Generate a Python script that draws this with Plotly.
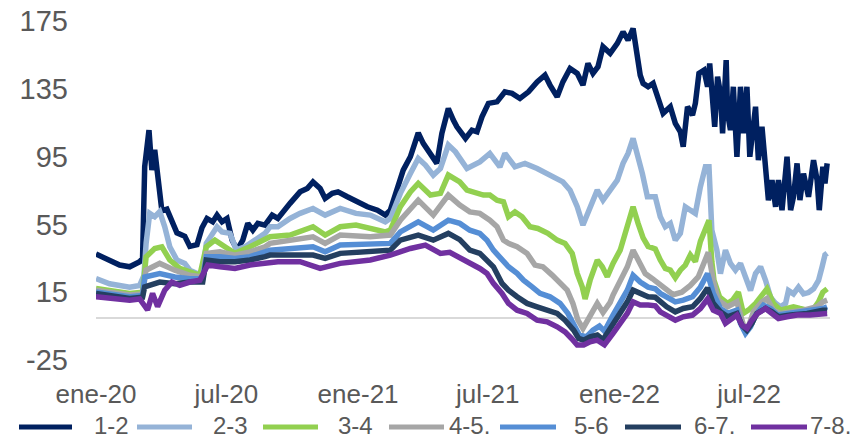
import plotly.graph_objects as go

# ---------------- data ----------------
series_names = ["1-2", "2-3", "3-4", "4-5.", "5-6", "6-7.", "7-8."]
series_colors = ["#002060", "#95B3D7", "#92D050", "#A6A6A6", "#558ED5", "#243F60", "#7030A0"]

tick_dates = ["2020-01-01", "2020-07-01", "2021-01-01", "2021-07-01", "2022-01-01", "2022-07-01"]
tick_labels = ["ene-20", "jul-20", "ene-21", "jul-21", "ene-22", "jul-22"]
y_ticks = [-25, 15, 55, 95, 135, 175]
y_tick_labels = ["-25", "15", "55", "95", "135", "175"]

dates_1_2 = ["2020-01-01","2020-01-20","2020-02-03","2020-02-17","2020-03-02","2020-03-06","2020-03-09","2020-03-15","2020-03-19","2020-03-23",
             "2020-03-27","2020-04-02","2020-04-09","2020-04-16","2020-04-23","2020-05-04","2020-05-11","2020-05-21","2020-05-28","2020-06-04",
             "2020-06-12","2020-06-18","2020-06-25","2020-07-02","2020-07-09","2020-07-16","2020-07-24","2020-07-31","2020-08-07","2020-08-14",
             "2020-08-24","2020-09-03","2020-09-11","2020-09-28","2020-10-12","2020-10-22","2020-10-30","2020-11-09","2020-11-16","2020-11-26",
             "2020-12-04","2020-12-17","2020-12-31","2021-01-14","2021-01-28","2021-02-08","2021-02-15","2021-02-24","2021-03-05","2021-03-15",
             "2021-03-26","2021-04-02","2021-04-12","2021-04-21","2021-04-28","2021-05-07","2021-05-14","2021-05-19","2021-05-31","2021-06-09",
             "2021-06-16","2021-06-23","2021-07-02","2021-07-14","2021-07-25","2021-08-04","2021-08-15","2021-08-27","2021-09-08","2021-09-19",
             "2021-09-26","2021-10-06","2021-10-14","2021-10-24","2021-11-03","2021-11-11","2021-11-18","2021-11-25","2021-12-02","2021-12-09",
             "2021-12-19","2021-12-29","2022-01-06","2022-01-13","2022-01-20","2022-01-26","2022-01-30","2022-02-03","2022-02-10","2022-02-17",
             "2022-02-24","2022-03-03","2022-03-13","2022-03-20","2022-03-27","2022-03-31","2022-04-06","2022-04-13","2022-04-17","2022-04-22",
             "2022-04-29","2022-05-04","2022-05-07","2022-05-11","2022-05-14","2022-05-18","2022-05-22","2022-05-25","2022-05-30","2022-06-01",
             "2022-06-05","2022-06-09","2022-06-14","2022-06-19","2022-06-23","2022-06-28","2022-07-02","2022-07-10","2022-07-14","2022-07-19",
             "2022-07-24","2022-07-28","2022-08-02","2022-08-07","2022-08-11","2022-08-16","2022-08-23","2022-08-28","2022-09-01","2022-09-06",
             "2022-09-10","2022-09-15","2022-09-22","2022-09-29","2022-10-04","2022-10-07","2022-10-12","2022-10-15","2022-10-18"]
vals_1_2 = [37.5,34,31,30,33,35,89,110.6,87,99,
            83,63,64,56,50,48,42,43,53,58.5,
            56.5,60.5,56.5,58.5,45.7,40,45.7,55.6,51.6,55.6,
            54.6,60.5,58.5,67.4,74.2,76.2,80.1,76.2,70.3,73.3,
            74.2,71.3,68.3,65.4,63.4,60.5,63.4,75.2,87,94.9,
            109,102.8,95.9,91,108.7,123.4,116.5,112.6,105.7,110.6,
            109.6,118.5,126.4,127.3,133.2,132.3,129.3,133.2,139.1,143.1,
            137.2,130.3,139.1,147,144.1,137.2,150,144.1,148,159.8,
            155.9,161.8,168.6,163.7,170.6,151.9,143,138.2,136.2,138.2,
            128.3,120.5,124.4,114.6,109.6,100.8,124.4,119.5,126.4,144.1,
            146,136.2,150,124.4,112.6,142.1,132.3,108.7,151.9,120.5,
            110.6,136.2,94.9,136.2,108.7,136.2,94.9,124.4,92.9,112.6,
            83.1,69.3,81.1,65.4,81.1,63.4,94.9,63.4,71.3,91,
            69.3,85,71.3,92.9,81.1,63.4,89,79.2,91]

dates_2_3 = ["2020-01-01","2020-01-20","2020-02-17","2020-03-02","2020-03-08","2020-03-11","2020-03-16","2020-03-23","2020-03-30","2020-04-06",
             "2020-04-13","2020-04-23","2020-05-04","2020-05-11","2020-05-21","2020-05-29","2020-06-03","2020-06-11","2020-06-18","2020-06-25",
             "2020-07-06","2020-07-15","2020-07-27","2020-08-10","2020-08-24","2020-08-31","2020-09-11","2020-09-28","2020-10-12","2020-10-30",
             "2020-11-16","2020-12-07","2020-12-29","2021-01-18","2021-02-08","2021-02-15","2021-03-01","2021-03-15","2021-03-26","2021-04-05",
             "2021-04-16","2021-04-26","2021-05-07","2021-05-17","2021-05-23","2021-06-02","2021-06-20","2021-07-04","2021-07-18","2021-07-25",
             "2021-08-08","2021-08-22","2021-09-08","2021-09-22","2021-10-06","2021-10-14","2021-10-24","2021-11-03","2021-11-11","2021-11-21",
             "2021-12-01","2021-12-09","2021-12-19","2021-12-29","2022-01-06","2022-01-13","2022-01-20","2022-01-26","2022-02-02","2022-02-09",
             "2022-02-20","2022-02-27","2022-03-06","2022-03-13","2022-03-20","2022-03-27","2022-04-03","2022-04-10","2022-04-17","2022-04-24",
             "2022-05-01","2022-05-06","2022-05-10","2022-05-17","2022-05-22","2022-05-29","2022-06-05","2022-06-12","2022-06-19","2022-06-26",
             "2022-07-03","2022-07-10","2022-07-17","2022-07-24","2022-07-31","2022-08-07","2022-08-14","2022-08-21","2022-08-25","2022-09-01",
             "2022-09-08","2022-09-15","2022-09-22","2022-09-29","2022-10-06","2022-10-11","2022-10-15","2022-10-18"]
vals_2_3 = [23,20,18,19,25,44,61.5,59.5,62.5,53.6,
            41.8,34,32,28,26,25,43.8,49.7,53.6,50.6,
            49.7,40,41.8,45.7,49.7,53.6,53.6,58.5,61.5,64.4,
            60.5,64.4,61.5,60.5,56.5,58.5,73.3,85,93.9,90,
            84,88,101.8,97.8,93.9,88,91.9,96.9,88.9,96.9,
            89,91,88,85,81.1,80.1,75.2,65.4,54.6,65.4,
            75.2,69.3,75.2,81.1,91,96.9,105.7,96.9,85,71.3,
            71.3,59.5,53.6,55.6,45.7,49.7,65.4,63.4,61.5,77.2,
            89,89,51.6,39.8,26,39.8,32,28,32,24,
            16,26,30,22,12,8.4,6.4,8.4,16,14,
            18,14,14.8,17,22,30,37,38]

dates_3_4 = ["2020-01-01","2020-02-17","2020-03-06","2020-03-11","2020-03-23","2020-04-02","2020-04-13","2020-04-27","2020-05-11","2020-05-25",
             "2020-06-03","2020-06-15","2020-06-29","2020-07-13","2020-08-03","2020-08-24","2020-08-31","2020-09-28","2020-10-30","2020-11-16",
             "2020-12-07","2020-12-29","2021-01-18","2021-02-08","2021-02-15","2021-03-01","2021-03-15","2021-03-26","2021-04-12","2021-04-26",
             "2021-05-07","2021-05-23","2021-06-02","2021-06-16","2021-06-25","2021-07-04","2021-07-14","2021-07-23","2021-07-30","2021-08-08",
             "2021-08-18","2021-08-29","2021-09-09","2021-09-23","2021-10-06","2021-10-17","2021-10-27","2021-11-03","2021-11-10","2021-11-14",
             "2021-11-21","2021-12-01","2021-12-08","2021-12-15","2021-12-23","2022-01-02","2022-01-12","2022-01-20","2022-01-27","2022-02-03",
             "2022-02-10","2022-02-20","2022-02-27","2022-03-06","2022-03-13","2022-03-20","2022-03-27","2022-04-03","2022-04-10","2022-04-17",
             "2022-04-24","2022-05-01","2022-05-06","2022-05-10","2022-05-13","2022-05-21","2022-06-01","2022-06-08","2022-06-16","2022-06-23",
             "2022-06-30","2022-07-10","2022-07-19","2022-07-26","2022-08-04","2022-08-14","2022-08-23","2022-09-01","2022-09-10","2022-09-20",
             "2022-09-29","2022-10-06","2022-10-12","2022-10-18"]
vals_3_4 = [17.2,14.3,15,35.9,40.8,41.8,34,29,27,25,
            41.8,45.7,41.8,37.9,41.8,45.7,47.7,48.7,53.6,48.7,
            53.6,54.6,52.6,50.6,51.6,65.4,74.2,79.2,72.3,73.3,
            84.1,80.1,75.2,73.3,72.3,72.3,69.3,68.3,59.5,62.4,
            59.5,53.6,52.6,49.7,45.7,43.8,37.9,26.1,18.2,11,
            22.1,33.9,30,24.1,32,39.8,53.6,65.4,55.6,47,
            42,40.5,34,29,28,23.5,28,31,37,33,
            45,53,57.5,33,22,12,8.4,10.3,15,2.5,
            4.4,8.4,14,17,8.4,4.4,5.4,6.4,5.4,4.4,
            5,9.3,15,17]

dates_4_5 = ["2020-01-01","2020-02-17","2020-03-06","2020-03-11","2020-03-30","2020-04-20","2020-05-11","2020-05-29","2020-06-03","2020-06-22",
             "2020-07-13","2020-08-03","2020-08-24","2020-08-31","2020-10-30","2020-11-16","2020-12-07","2021-01-18","2021-02-15","2021-03-01",
             "2021-03-26","2021-04-16","2021-05-07","2021-05-23","2021-06-06","2021-06-20","2021-07-04","2021-07-14","2021-07-23","2021-07-30",
             "2021-08-11","2021-08-25","2021-09-05","2021-09-16","2021-09-29","2021-10-10","2021-10-20","2021-10-28","2021-11-04","2021-11-11",
             "2021-11-21","2021-12-01","2021-12-09","2021-12-19","2021-12-23","2022-01-02","2022-01-12","2022-01-20","2022-01-27","2022-02-06",
             "2022-02-16","2022-02-24","2022-03-07","2022-03-17","2022-03-29","2022-04-10","2022-04-21","2022-05-03","2022-05-05","2022-05-12",
             "2022-05-19","2022-06-01","2022-06-14","2022-06-21","2022-06-26","2022-06-30","2022-07-07","2022-07-19","2022-07-26","2022-08-04",
             "2022-08-14","2022-08-28","2022-09-15","2022-10-04","2022-10-12","2022-10-18"]
vals_4_5 = [16.2,13.3,14,28,32,28,25,24,37.9,38.8,
            36.9,38.8,41.8,43.8,47.7,43.8,48.7,47.7,48.7,57.5,
            69.3,60.5,72.3,66.4,62.4,61.5,57.5,53.6,45.7,43.8,
            41.8,37.9,31,30,25.1,20.2,16.2,8.4,-1.5,-6.4,
            0.5,8.4,3,9,13.3,22,30,39.8,33.9,26,
            23,20.2,16.2,13.5,15,19,24,37,38.5,22,
            10.3,6.4,9.3,-1.5,-8.4,-5.4,3.4,9.3,11.3,4.4,
            2.5,3.4,4.4,6.4,9.3,10.3]

dates_5_6 = ["2020-01-01","2020-02-17","2020-03-06","2020-03-09","2020-03-30","2020-04-20","2020-05-11","2020-05-29","2020-06-03","2020-06-22",
             "2020-07-13","2020-08-03","2020-08-24","2020-08-31","2020-10-30","2020-11-16","2020-12-07","2021-01-18","2021-02-15","2021-03-01",
             "2021-03-26","2021-04-16","2021-05-07","2021-05-23","2021-06-06","2021-06-20","2021-06-30","2021-07-09","2021-07-21","2021-07-30",
             "2021-08-11","2021-08-20","2021-09-01","2021-09-12","2021-09-26","2021-10-10","2021-10-21","2021-10-31","2021-11-06","2021-11-16",
             "2021-11-25","2021-12-04","2021-12-11","2021-12-23","2022-01-02","2022-01-12","2022-01-20","2022-01-30","2022-02-10","2022-02-20",
             "2022-02-27","2022-03-08","2022-03-20","2022-03-31","2022-04-13","2022-04-24","2022-05-04","2022-05-12","2022-05-22","2022-06-01",
             "2022-06-14","2022-06-19","2022-06-26","2022-07-03","2022-07-10","2022-07-21","2022-07-31","2022-08-10","2022-08-28","2022-09-20",
             "2022-10-12","2022-10-18"]
vals_5_6 = [15.2,12.3,13,24,26,24,23,23,35.9,35.9,
            34.9,36,38.8,39.8,41.8,38.8,42.8,43.8,43.8,50.6,
            56.5,51.6,57.5,55.6,51.6,49.7,45.7,39.8,33.9,30,
            26.1,22.1,18.2,14.3,12.3,8.4,2.5,-5.4,-10.3,-11.3,
            -7.4,-5,-8,1.5,8.4,16.2,25,21,18,17,
            14.3,12.3,9.3,10.3,12.3,18,26,14.3,5.4,2.5,
            4.4,-3.4,-9.3,-5.4,1.5,7.4,5.4,1.5,2.5,3.4,
            5.4,6.4]

dates_6_7 = ["2020-01-01","2020-02-17","2020-03-06","2020-03-09","2020-03-30","2020-04-20","2020-05-11","2020-05-29","2020-06-03","2020-06-22",
             "2020-07-13","2020-08-03","2020-08-24","2020-08-31","2020-10-30","2020-11-16","2020-12-07","2021-01-18","2021-02-15","2021-03-01",
             "2021-03-26","2021-04-16","2021-05-07","2021-05-23","2021-06-06","2021-06-20","2021-06-30","2021-07-09","2021-07-21","2021-07-30",
             "2021-08-11","2021-08-25","2021-09-08","2021-09-22","2021-10-06","2021-10-17","2021-10-29","2021-11-05","2021-11-12","2021-11-21",
             "2021-12-01","2021-12-09","2021-12-23","2022-01-02","2022-01-12","2022-01-20","2022-01-30","2022-02-10","2022-02-20","2022-02-27",
             "2022-03-08","2022-03-20","2022-03-31","2022-04-13","2022-04-24","2022-05-04","2022-05-12","2022-05-22","2022-06-01","2022-06-14",
             "2022-06-21","2022-06-28","2022-07-05","2022-07-12","2022-07-24","2022-08-02","2022-08-11","2022-08-28","2022-09-20","2022-10-12",
             "2022-10-18"]
vals_6_7 = [14.3,11.3,12,18.2,21,20,21,21,34,33,
            33,34,36,36.9,36.9,34.9,37.9,38.8,39.8,45.7,
            48.7,45.7,49.7,46,39.8,37.9,33.9,30,20.2,16.2,
            12.3,8.4,6.4,4.4,2.5,-1.5,-7.4,-12.3,-13.3,-11.3,
            -10.3,-13,-4.4,2.5,9.3,16.2,14.3,12.3,12,9.3,
            6.4,3.4,5.4,6.4,11.3,17.5,8.4,3.4,0.5,2.5,
            -4.4,-7.4,-3.4,2.5,5.4,3.4,0.5,1.5,2.5,4.4,
            4.4]

dates_7_8 = ["2020-01-01","2020-02-17","2020-03-02","2020-03-13","2020-03-20","2020-03-27","2020-04-06","2020-04-16","2020-04-27","2020-05-11",
             "2020-05-25","2020-06-05","2020-06-22","2020-07-13","2020-08-03","2020-08-24","2020-09-11","2020-10-12","2020-11-09","2020-12-07",
             "2021-01-18","2021-02-15","2021-03-15","2021-04-05","2021-04-26","2021-05-09","2021-05-23","2021-06-06","2021-06-20","2021-06-30",
             "2021-07-09","2021-07-21","2021-07-30","2021-08-11","2021-08-25","2021-09-08","2021-09-22","2021-10-06","2021-10-17","2021-10-26",
             "2021-11-03","2021-11-12","2021-11-21","2021-12-01","2021-12-11","2021-12-23","2022-01-02","2022-01-12","2022-01-20","2022-01-30",
             "2022-02-10","2022-02-20","2022-02-27","2022-03-08","2022-03-20","2022-03-31","2022-04-13","2022-04-24","2022-05-04","2022-05-12",
             "2022-05-22","2022-05-29","2022-06-05","2022-06-14","2022-06-21","2022-06-28","2022-07-05","2022-07-13","2022-07-24","2022-08-02",
             "2022-08-11","2022-08-23","2022-09-06","2022-09-24","2022-10-18"]
vals_7_8 = [12.3,10.3,11,4.5,14.3,6.5,16.2,21,19,21,
            22,31,30,29,31,32,33,33,29,32,
            34,36.9,40.8,42.8,37.9,38.5,35.5,32,29,26.1,
            20.2,14.3,8.4,4.4,2.5,-1.5,-2.5,-5.4,-8.4,-12.3,
            -16.2,-16.2,-14.3,-13.3,-16,-9.3,-3.4,2.5,9.3,7.4,
            7.4,7,3.4,1.5,-1.5,0.5,1.5,5.4,11,4.4,
            2.5,-3.4,-1.5,1.5,-4.4,-6.4,-1.5,2.5,5.4,2.5,
            -0.5,0.5,1.5,1.5,2.5]

series_dates = [dates_1_2, dates_2_3, dates_3_4, dates_4_5, dates_5_6, dates_6_7, dates_7_8]
series_vals = [vals_1_2, vals_2_3, vals_3_4, vals_4_5, vals_5_6, vals_6_7, vals_7_8]

for d, v, n in zip(series_dates, series_vals, series_names):
    assert len(d) == len(v), (n, len(d), len(v))

# ---------------- figure ----------------
W, H = 866, 438
ML, MR, MT, MB = 96, 36, 21, 78
PW, PH = W - ML - MR, H - MT - MB

FONT = "Liberation Sans, Arial, sans-serif"
TXT = "#595959"

fig = go.Figure()
for d, v, n, c in zip(series_dates, series_vals, series_names, series_colors):
    fig.add_trace(go.Scatter(x=d, y=v, name=n, mode="lines",
                             line=dict(color=c, width=5.5), showlegend=False))

fig.update_layout(
    width=W, height=H,
    margin=dict(l=ML, r=MR, t=MT, b=MB, pad=0, autoexpand=False),
    paper_bgcolor="white", plot_bgcolor="white",
    font=dict(family=FONT, color=TXT),
)
fig.update_xaxes(
    range=["2020-01-01", "2022-10-22"],
    tickvals=tick_dates, ticktext=tick_labels,
    tickfont=dict(size=26, color=TXT, family=FONT),
    showgrid=False, zeroline=False, showline=False, ticks="",
    ticklabelstandoff=16, automargin=False,
)
fig.update_yaxes(
    range=[-25, 175],
    tickvals=y_ticks, ticktext=y_tick_labels,
    tickfont=dict(size=29, color=TXT, family=FONT),
    showgrid=False, showline=False, ticks="",
    zeroline=True, zerolinecolor="#D9D9D9", zerolinewidth=1.5,
    ticklabelstandoff=27, automargin=False,
)

# custom legend (long line samples like the original)
leg_y_px = 425
leg_line_x = [(19, 72), (137, 192), (263, 318), (389, 444), (500, 556), (625, 681), (751, 807)]
leg_text_x = [92, 211, 336, 447, 572, 692, 808]

def px2paper_x(px):
    return (px - ML) / PW

def px2paper_y(py):
    return (H - MB - py) / PH

for (x0, x1), tx, n, c in zip(leg_line_x, leg_text_x, series_names, series_colors):
    fig.add_shape(type="line", xref="paper", yref="paper",
                  x0=px2paper_x(x0), x1=px2paper_x(x1),
                  y0=px2paper_y(leg_y_px + 2), y1=px2paper_y(leg_y_px + 2),
                  line=dict(color=c, width=5))
    fig.add_annotation(xref="paper", yref="paper", x=px2paper_x(tx), y=px2paper_y(leg_y_px),
                       text=n, showarrow=False, xanchor="left", yanchor="middle",
                       font=dict(size=24, color=TXT, family=FONT))

fig.write_html("out.html")
